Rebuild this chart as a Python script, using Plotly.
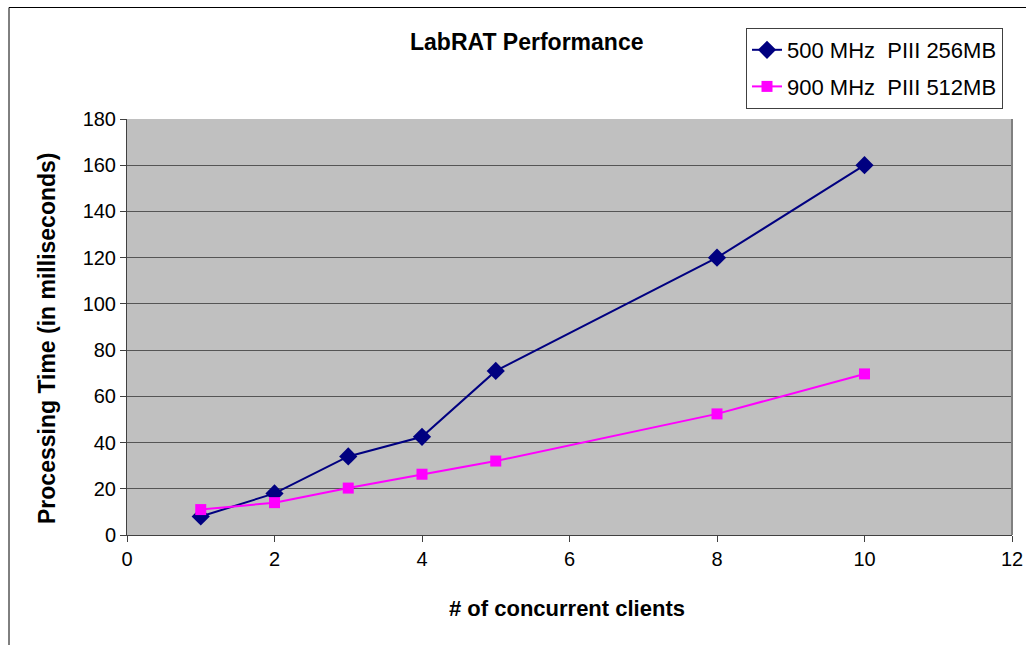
import plotly.graph_objects as go

clients = [1, 2, 3, 4, 5, 8, 10]
series_500 = [8, 18, 34, 42.5, 71, 120, 160]
series_900 = [11, 14, 20.3, 26.3, 32, 52.4, 69.7]
name_500 = "500 MHz  PIII 256MB"
name_900 = "900 MHz  PIII 512MB"

W, H = 1026, 645
PL, PR, PT, PB = 127, 1012, 119, 535  # plot area in pixels
L, R, T, B = PL, W - PR, PT, H - PB
pw, ph = PR - PL, PB - PT

def px(x):
    return (x - PL) / pw

def py(y):
    return (PB - y) / ph

fig = go.Figure()
fig.add_trace(go.Scatter(x=clients, y=series_500, mode="lines+markers", name=name_500,
                         legendgroup="a",
                         line=dict(color="#000080", width=2),
                         marker=dict(symbol="diamond", size=14, color="#000080")))
fig.add_trace(go.Scatter(x=clients, y=series_900, mode="lines+markers", name=name_900,
                         legendgroup="b",
                         line=dict(color="#FF00FF", width=2),
                         marker=dict(symbol="square", size=11, color="#FF00FF")))

font = "Liberation Sans, Arial, sans-serif"
fig.update_layout(
    width=W, height=H,
    margin=dict(l=L, r=R, t=T, b=B),
    paper_bgcolor="white", plot_bgcolor="#C0C0C0",
    font=dict(family=font, size=20, color="black"),
    showlegend=True,
    legend=dict(x=px(746), y=py(28), xanchor="left", yanchor="top",
                bordercolor="#404040", borderwidth=1, bgcolor="white",
                font=dict(size=22), tracegroupgap=5),
    xaxis=dict(range=[0, 12], dtick=2, tick0=0, showgrid=False, zeroline=False,
               showline=True, linecolor="#404040", linewidth=1, automargin=False,
               ticks="outside", ticklen=6, tickcolor="#404040"),
    yaxis=dict(range=[0, 180], dtick=20, tick0=0, showgrid=True, gridcolor="#555555", gridwidth=1,
               zeroline=False, showline=True, linecolor="#404040", linewidth=1, automargin=False,
               ticks="outside", ticklen=6, tickcolor="#404040"),
    annotations=[
        dict(text="<b>LabRAT Performance</b>", xref="paper", yref="paper",
             x=px(526), y=py(42), xanchor="center", yanchor="middle",
             showarrow=False, font=dict(size=23)),
        dict(text="<b># of concurrent clients</b>", xref="paper", yref="paper",
             x=px(567), y=py(608), xanchor="center", yanchor="middle",
             showarrow=False, font=dict(size=22)),
        dict(text="<b>Processing Time (in milliseconds)</b>", xref="paper", yref="paper",
             x=px(47), y=py(338), xanchor="center", yanchor="middle", textangle=-90,
             showarrow=False, font=dict(size=23)),
    ],
)

# right border of plot area
fig.add_shape(type="line", xref="paper", yref="paper", x0=1, x1=1, y0=0, y1=1,
              line=dict(color="#808080", width=2))
# outer chart frame (top and left edges visible)
fig.add_shape(type="line", xref="paper", yref="paper", x0=px(9), x1=px(1040), y0=py(7.5), y1=py(7.5),
              line=dict(color="black", width=1))
fig.add_shape(type="line", xref="paper", yref="paper", x0=px(9), x1=px(9), y0=py(7.5), y1=py(660),
              line=dict(color="black", width=1))

fig.write_html("out.html", config={"displayModeBar": False},
               post_script="document.body.style.margin='0';document.body.style.overflow='hidden';")
